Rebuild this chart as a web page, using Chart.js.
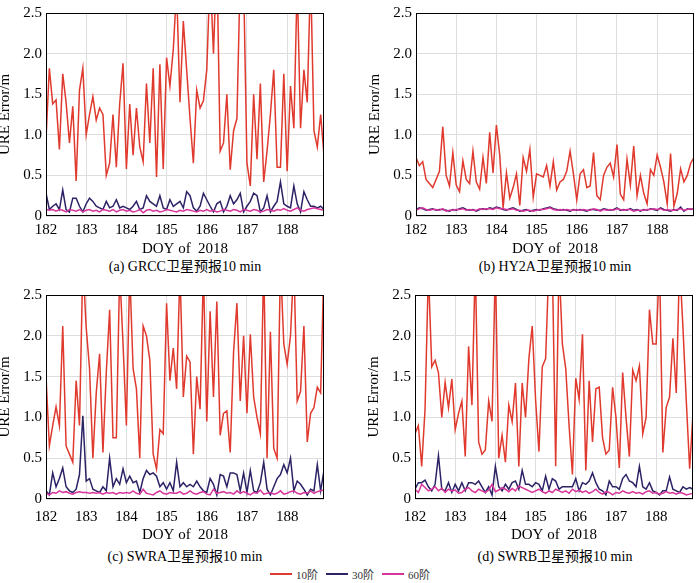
<!DOCTYPE html>
<html>
<head>
<meta charset="utf-8">
<script src="https://cdn.jsdelivr.net/npm/chart.js@4"></script>
<style>
  body { margin: 0; width: 700px; height: 583px; background: #fff; position: relative; overflow: hidden; }
  canvas { position: absolute; }
  .cap { position: absolute; width: 300px; text-align: center; font: 14px 'Liberation Serif', 'Noto Sans CJK SC', serif; color: #000; line-height: 16px; }
  .legend { position: absolute; left: 0; width: 700px; top: 566px; display: flex; justify-content: center; font: 11px 'Liberation Serif', 'Noto Sans CJK SC', serif; color: #333; }
  .legend span { display: inline-flex; align-items: center; margin: 0 4px; }
  .legend i { display: inline-block; width: 22px; height: 2px; margin-right: 4px; }
</style>
</head>
<body>
<canvas id="ca" width="334" height="258" style="left:-4px;top:0px"></canvas>
<canvas id="cb" width="334" height="258" style="left:366px;top:0px"></canvas>
<canvas id="cc" width="334" height="262" style="left:-4px;top:282px"></canvas>
<canvas id="cd" width="334" height="262" style="left:365px;top:282px"></canvas>
<div class="cap" style="left:35px;top:259px">(a) GRCC卫星预报10 min</div>
<div class="cap" style="left:405px;top:259px">(b) HY2A卫星预报10 min</div>
<div class="cap" style="left:35px;top:549px">(c) SWRA卫星预报10 min</div>
<div class="cap" style="left:405px;top:549px">(d) SWRB卫星预报10 min</div>
<div class="legend" id="legend"></div>
<script>
// sampling: 12 points per day, 2 h step, DOY 182.0 .. 188.92
const startDay = 182
const perDay = 12
const xTicks = [182, 183, 184, 185, 186, 187, 188]
const yTicks = [0, 0.5, 1, 1.5, 2, 2.5]
const seriesNames = ['10阶', '30阶', '60阶']
const seriesColors = ['#e03a2e', '#2b2366', '#d8359c']

const grccO10 = [
  0.95, 1.82, 1.38, 1.43, 0.82, 1.75, 1.40, 0.90, 1.35, 0.43, 1.55, 1.82,
  1.00, 1.25, 1.47, 1.18, 1.33, 1.25, 0.50, 0.65, 1.25, 0.60, 1.38, 1.88,
  0.58, 1.38, 0.75, 1.33, 0.85, 0.67, 1.63, 0.90, 1.82, 0.48, 1.87, 0.58,
  1.95, 1.60, 2.05, 2.80, 1.40, 2.40, 1.80, 1.20, 0.65, 1.55, 1.33, 1.42,
  1.80, 3.00, 2.00, 3.20, 0.80, 0.90, 1.50, 0.57, 1.05, 1.20, 3.00, 2.90,
  0.65, 0.37, 1.50, 0.70, 1.63, 0.42, 0.80, 1.25, 1.80, 0.60, 0.60, 1.75,
  0.55, 1.60, 1.08, 2.90, 1.08, 1.80, 1.40, 3.00, 1.05, 0.85, 1.25, 0.75
]
const grccO30 = [
  0.28, 0.08, 0.12, 0.15, 0.08, 0.32, 0.08, 0.05, 0.22, 0.22, 0.12, 0.05,
  0.15, 0.22, 0.18, 0.12, 0.10, 0.08, 0.18, 0.10, 0.12, 0.20, 0.10, 0.12,
  0.10, 0.08, 0.12, 0.18, 0.08, 0.10, 0.25, 0.18, 0.15, 0.12, 0.25, 0.10,
  0.08, 0.20, 0.12, 0.15, 0.18, 0.10, 0.30, 0.25, 0.10, 0.06, 0.12, 0.28,
  0.20, 0.12, 0.05, 0.15, 0.18, 0.05, 0.12, 0.25, 0.15, 0.20, 0.28, 0.05,
  0.12, 0.18, 0.28, 0.25, 0.05, 0.10, 0.25, 0.05, 0.12, 0.18, 0.42, 0.15,
  0.12, 0.10, 0.37, 0.15, 0.05, 0.30, 0.20, 0.12, 0.12, 0.10, 0.12, 0.08
]
const grccO60 = [
  0.08, 0.07, 0.08, 0.06, 0.08, 0.07, 0.05, 0.08, 0.07, 0.06, 0.08, 0.05,
  0.07, 0.08, 0.06, 0.07, 0.05, 0.08, 0.07, 0.06, 0.08, 0.05, 0.07, 0.08,
  0.06, 0.07, 0.05, 0.06, 0.08, 0.04, 0.07, 0.08, 0.06, 0.07, 0.05, 0.06,
  0.08, 0.07, 0.06, 0.05, 0.07, 0.06, 0.08, 0.07, 0.06, 0.05, 0.07, 0.06,
  0.08, 0.06, 0.07, 0.05, 0.06, 0.08, 0.07, 0.06, 0.08, 0.07, 0.05, 0.08,
  0.07, 0.06, 0.08, 0.07, 0.05, 0.06, 0.08, 0.07, 0.06, 0.08, 0.07, 0.09,
  0.07, 0.06, 0.08, 0.10, 0.07, 0.06, 0.08, 0.09, 0.10, 0.09, 0.08, 0.07
]

const hy2aO10 = [
  0.72, 0.62, 0.67, 0.45, 0.40, 0.35, 0.45, 0.55, 1.10, 0.50, 0.37, 0.78,
  0.38, 0.30, 0.68, 0.45, 0.40, 0.80, 0.42, 0.33, 0.72, 0.40, 1.03, 0.53,
  1.12, 0.75, 0.10, 0.53, 0.22, 0.35, 0.52, 0.13, 0.72, 0.55, 0.82, 0.23,
  0.52, 0.50, 0.48, 0.62, 0.37, 0.67, 0.32, 0.42, 0.45, 0.55, 0.80, 0.52,
  0.20, 0.52, 0.57, 0.35, 0.37, 0.78, 0.25, 0.20, 0.50, 0.60, 0.65, 0.48,
  0.88, 0.27, 0.20, 0.70, 0.38, 0.86, 0.25, 0.50, 0.28, 0.15, 0.57, 0.50,
  0.75, 0.60, 0.42, 0.15, 0.77, 0.12, 0.28, 0.58, 0.42, 0.50, 0.65, 0.72
]
const hy2aO30 = [
  0.08, 0.10, 0.09, 0.07, 0.08, 0.09, 0.07, 0.08, 0.08, 0.07, 0.06, 0.08,
  0.07, 0.09, 0.10, 0.08, 0.07, 0.08, 0.06, 0.08, 0.09, 0.08, 0.10, 0.09,
  0.11, 0.10, 0.08, 0.07, 0.09, 0.10, 0.08, 0.06, 0.07, 0.08, 0.06, 0.07,
  0.08, 0.07, 0.09, 0.10, 0.11, 0.09, 0.08, 0.07, 0.08, 0.07, 0.06, 0.08,
  0.07, 0.08, 0.07, 0.06, 0.08, 0.08, 0.07, 0.07, 0.09, 0.08, 0.07, 0.08,
  0.10, 0.07, 0.08, 0.07, 0.09, 0.07, 0.08, 0.06, 0.08, 0.07, 0.09, 0.08,
  0.07, 0.10, 0.08, 0.07, 0.06, 0.08, 0.07, 0.11, 0.06, 0.09, 0.08, 0.09
]
const hy2aO60 = [
  0.07, 0.09, 0.10, 0.08, 0.07, 0.08, 0.08, 0.07, 0.09, 0.06, 0.07, 0.07,
  0.08, 0.08, 0.09, 0.07, 0.08, 0.07, 0.07, 0.09, 0.08, 0.09, 0.09, 0.08,
  0.10, 0.09, 0.09, 0.08, 0.08, 0.09, 0.07, 0.07, 0.06, 0.07, 0.07, 0.06,
  0.07, 0.08, 0.08, 0.09, 0.10, 0.08, 0.07, 0.08, 0.07, 0.08, 0.07, 0.07,
  0.08, 0.07, 0.08, 0.07, 0.07, 0.09, 0.08, 0.06, 0.08, 0.07, 0.08, 0.07,
  0.09, 0.08, 0.07, 0.08, 0.08, 0.06, 0.07, 0.07, 0.07, 0.08, 0.08, 0.09,
  0.08, 0.09, 0.07, 0.08, 0.07, 0.07, 0.08, 0.09, 0.07, 0.08, 0.09, 0.08
]

const swraO10 = [
  1.50, 0.65, 0.90, 1.13, 0.90, 2.12, 0.65, 0.55, 0.45, 1.45, 0.90, 2.90,
  2.10, 1.60, 0.50, 1.30, 1.78, 0.57, 1.55, 2.32, 0.75, 0.75, 2.80, 1.90,
  0.90, 2.80, 1.60, 1.35, 0.50, 2.12, 2.00, 1.70, 0.55, 0.37, 0.85, 0.80,
  2.40, 1.45, 1.85, 1.35, 2.80, 1.25, 1.75, 1.68, 0.55, 1.50, 1.10, 2.80,
  0.95, 2.30, 1.25, 2.42, 0.78, 1.05, 1.08, 0.57, 1.80, 2.40, 1.20, 2.00,
  1.05, 2.02, 1.25, 1.00, 0.80, 2.90, 0.50, 2.05, 0.62, 0.50, 2.90, 1.90,
  1.65, 2.00, 2.90, 1.20, 1.32, 2.12, 0.70, 1.05, 1.12, 1.37, 1.30, 2.90
]
const swraO30 = [
  0.10, 0.05, 0.32, 0.15, 0.25, 0.38, 0.15, 0.10, 0.08, 0.12, 0.30, 1.02,
  0.22, 0.25, 0.12, 0.10, 0.08, 0.15, 0.10, 0.50, 0.15, 0.25, 0.18, 0.37,
  0.20, 0.28, 0.20, 0.22, 0.08, 0.25, 0.35, 0.30, 0.32, 0.28, 0.15, 0.20,
  0.12, 0.20, 0.10, 0.45, 0.15, 0.20, 0.15, 0.18, 0.15, 0.22, 0.15, 0.10,
  0.08, 0.25, 0.18, 0.05, 0.30, 0.28, 0.15, 0.32, 0.32, 0.30, 0.10, 0.32,
  0.08, 0.35, 0.10, 0.08, 0.20, 0.45, 0.12, 0.05, 0.15, 0.25, 0.30, 0.42,
  0.32, 0.50, 0.10, 0.22, 0.18, 0.12, 0.05, 0.12, 0.10, 0.42, 0.10, 0.35
]
const swraO60 = [
  0.07, 0.05, 0.08, 0.07, 0.10, 0.08, 0.09, 0.07, 0.06, 0.08, 0.09, 0.08,
  0.08, 0.07, 0.08, 0.07, 0.08, 0.06, 0.08, 0.07, 0.08, 0.06, 0.08, 0.07,
  0.08, 0.07, 0.10, 0.07, 0.06, 0.12, 0.07, 0.06, 0.05, 0.08, 0.10, 0.07,
  0.06, 0.08, 0.07, 0.07, 0.09, 0.06, 0.07, 0.10, 0.07, 0.06, 0.08, 0.09,
  0.06, 0.05, 0.12, 0.07, 0.08, 0.09, 0.07, 0.08, 0.06, 0.10, 0.07, 0.09,
  0.07, 0.05, 0.08, 0.07, 0.11, 0.06, 0.07, 0.08, 0.06, 0.07, 0.10, 0.06,
  0.07, 0.09, 0.10, 0.07, 0.06, 0.08, 0.07, 0.10, 0.07, 0.09, 0.10, 0.11
]

const swrbO10 = [
  0.80, 0.90, 0.40, 1.10, 2.80, 1.62, 1.70, 1.55, 1.00, 1.43, 1.12, 1.47,
  0.85, 1.05, 1.20, 0.52, 1.87, 1.15, 2.90, 0.70, 0.55, 0.60, 1.20, 0.95,
  2.90, 0.50, 0.78, 0.45, 1.15, 0.95, 1.42, 0.40, 1.42, 1.00, 1.72, 2.12,
  1.22, 0.58, 1.62, 1.72, 2.90, 2.90, 0.40, 2.90, 1.90, 1.60, 0.90, 0.30,
  1.48, 1.22, 2.02, 0.35, 1.45, 0.70, 1.35, 1.37, 0.75, 0.55, 0.60, 1.37,
  1.00, 0.38, 1.55, 1.00, 0.52, 1.58, 1.45, 1.63, 0.80, 1.00, 2.32, 1.90,
  1.90, 2.90, 0.57, 1.12, 1.25, 1.97, 1.30, 2.90, 2.10, 1.20, 0.37, 1.05
]
const swrbO30 = [
  0.12, 0.20, 0.20, 0.23, 0.15, 0.10, 0.18, 0.53, 0.12, 0.10, 0.20, 0.08,
  0.18, 0.10, 0.20, 0.10, 0.20, 0.20, 0.18, 0.22, 0.15, 0.08, 0.15, 0.05,
  0.40, 0.15, 0.10, 0.18, 0.12, 0.20, 0.22, 0.12, 0.35, 0.18, 0.18, 0.15,
  0.20, 0.18, 0.10, 0.28, 0.12, 0.25, 0.22, 0.12, 0.15, 0.15, 0.15, 0.15,
  0.25, 0.10, 0.20, 0.18, 0.22, 0.32, 0.20, 0.12, 0.10, 0.05, 0.22, 0.15,
  0.15, 0.12, 0.25, 0.30, 0.22, 0.20, 0.15, 0.40, 0.15, 0.12, 0.20, 0.10,
  0.08, 0.05, 0.10, 0.10, 0.27, 0.12, 0.10, 0.08, 0.15, 0.12, 0.14, 0.12
]
const swrbO60 = [
  0.12, 0.08, 0.18, 0.14, 0.10, 0.12, 0.15, 0.10, 0.13, 0.08, 0.12, 0.10,
  0.11, 0.07, 0.08, 0.12, 0.14, 0.10, 0.08, 0.12, 0.10, 0.08, 0.11, 0.18,
  0.09, 0.11, 0.14, 0.12, 0.09, 0.13, 0.10, 0.16, 0.14, 0.12, 0.10, 0.08,
  0.10, 0.12, 0.09, 0.07, 0.10, 0.08, 0.12, 0.10, 0.08, 0.10, 0.07, 0.12,
  0.09, 0.11, 0.08, 0.10, 0.07, 0.09, 0.12, 0.08, 0.06, 0.09, 0.08, 0.05,
  0.08, 0.07, 0.10, 0.08, 0.07, 0.09, 0.07, 0.08, 0.06, 0.09, 0.10, 0.07,
  0.08, 0.06, 0.07, 0.09, 0.07, 0.08, 0.06, 0.08, 0.07, 0.05, 0.06, 0.07
]

const serif = "'Liberation Serif', 'Noto Sans CJK SC', serif"

// MATLAB style box round the plot area
const boxPlugin = {
  id: 'box',
  afterDatasetsDraw(chart) {
    const { ctx, chartArea: a } = chart
    ctx.save()
    ctx.strokeStyle = '#000'
    ctx.lineWidth = 1
    ctx.strokeRect(Math.round(a.left) + 0.5, Math.round(a.top) + 0.5, Math.round(a.width) - 1, Math.round(a.height) - 1)
    ctx.restore()
  }
}

function toPoints(values) {
  return values.map((v, i) => ({ x: startDay + i / perDay, y: v }))
}

function makePanel(id, o10, o30, o60, xAxisHeight, tickPad) {
  const all = [o10, o30, o60]
  const datasets = all.map((vals, k) => ({
    label: seriesNames[k],
    data: toPoints(vals),
    borderColor: seriesColors[k],
    borderWidth: 1.5,
    pointRadius: 0,
    tension: 0,
    order: 3 - k
  }))
  const xMax = startDay + (o10.length - 1) / perDay

  new Chart(document.getElementById(id), {
    type: 'line',
    data: { datasets: datasets },
    options: {
      responsive: false,
      animation: false,
      devicePixelRatio: 1,
      layout: { padding: { top: 7, right: 6, left: 0, bottom: 0 } },
      scales: {
        x: {
          type: 'linear',
          min: startDay,
          max: xMax,
          afterBuildTicks: s => { s.ticks = xTicks.map(v => ({ value: v })) },
          afterFit: s => { s.height = xAxisHeight },
          grid: { color: '#dedede', drawTicks: false },
          border: { display: false },
          ticks: { color: '#000', padding: tickPad, maxRotation: 0, font: { family: serif, size: 15 } },
          title: { display: true, text: 'DOY of  2018', color: '#000', padding: 0, font: { family: serif, size: 15 } }
        },
        y: {
          min: 0,
          max: 2.5,
          afterBuildTicks: s => { s.ticks = yTicks.map(v => ({ value: v })) },
          afterFit: s => { s.width = 50 },
          grid: { color: '#dedede', drawTicks: false },
          border: { display: false },
          ticks: { color: '#000', padding: 4, font: { family: serif, size: 15 } },
          title: { display: true, text: 'URE Error/m', color: '#000', padding: 0, font: { family: serif, size: 15 } }
        }
      },
      plugins: {
        legend: { display: false },
        tooltip: { enabled: false }
      }
    },
    plugins: [boxPlugin]
  })
}

makePanel('ca', grccO10, grccO30, grccO60, 42, 5)
makePanel('cb', hy2aO10, hy2aO30, hy2aO60, 42, 5)
makePanel('cc', swraO10, swraO30, swraO60, 45, 9)
makePanel('cd', swrbO10, swrbO30, swrbO60, 45, 9)

const legend = document.getElementById('legend')
seriesNames.forEach((name, k) => {
  const item = document.createElement('span')
  const swatch = document.createElement('i')
  swatch.style.background = seriesColors[k]
  item.appendChild(swatch)
  item.appendChild(document.createTextNode(name))
  legend.appendChild(item)
})
</script>
</body>
</html>
